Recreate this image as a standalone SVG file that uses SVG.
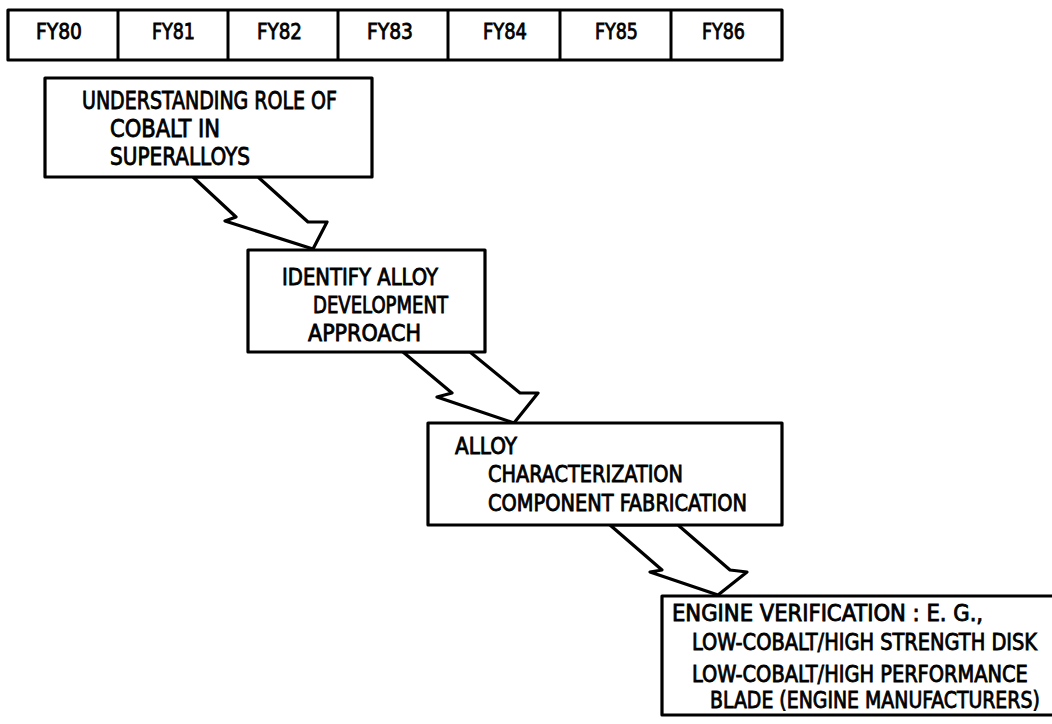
<svg xmlns="http://www.w3.org/2000/svg" width="1052" height="724" viewBox="0 0 1052 724">
<style>
.box{fill:#fff;stroke:#000;stroke-width:3.2;stroke-linejoin:round}
.arrow{fill:#fff;stroke:#000;stroke-width:3.2;stroke-linejoin:round}
.div{stroke:#000;stroke-width:3}
text{font-family:"Liberation Sans Narrow","DejaVu Sans Condensed","Liberation Sans",sans-serif;fill:#000;stroke:#000;stroke-width:0.8;font-size:23px}
.fy{font-size:22px}
.b1{font-size:24px}
</style>
<rect width="1052" height="724" fill="#fff"/>
<g id="timeline">
<rect class="box" x="8" y="10" width="774" height="50"/>
<line class="div" x1="118" y1="10" x2="118" y2="60"/>
<line class="div" x1="228" y1="10" x2="228" y2="60"/>
<line class="div" x1="338" y1="10" x2="338" y2="60"/>
<line class="div" x1="448" y1="10" x2="448" y2="60"/>
<line class="div" x1="560" y1="10" x2="560" y2="60"/>
<line class="div" x1="671" y1="10" x2="671" y2="60"/>
<text class="fy" x="36" y="39" textLength="46" lengthAdjust="spacingAndGlyphs">FY80</text>
<text class="fy" x="152" y="39" textLength="43" lengthAdjust="spacingAndGlyphs">FY81</text>
<text class="fy" x="257" y="39" textLength="45" lengthAdjust="spacingAndGlyphs">FY82</text>
<text class="fy" x="367" y="39" textLength="46" lengthAdjust="spacingAndGlyphs">FY83</text>
<text class="fy" x="483" y="39" textLength="44" lengthAdjust="spacingAndGlyphs">FY84</text>
<text class="fy" x="595" y="39" textLength="43" lengthAdjust="spacingAndGlyphs">FY85</text>
<text class="fy" x="702" y="39" textLength="43" lengthAdjust="spacingAndGlyphs">FY86</text>
</g>
<g id="connectors">
<polygon class="arrow" points="193,177 236,217 225,221 313,249 327,222 308,222 258,177"/>
<polygon class="arrow" points="403,352 452,393 437,397 514,423 538,393 520,393 470,352"/>
<polygon class="arrow" points="610,525 662,570 650,572 718,595 747,572 730,570 678,525"/>
</g>
<g id="node1">
<rect class="box" x="45" y="78" width="327" height="99"/>
<text class="b1" x="82" y="109" textLength="255" lengthAdjust="spacingAndGlyphs">UNDERSTANDING ROLE OF</text>
<text class="b1" x="110" y="137" textLength="110" lengthAdjust="spacingAndGlyphs">COBALT IN</text>
<text class="b1" x="110" y="165" textLength="140" lengthAdjust="spacingAndGlyphs">SUPERALLOYS</text>
</g>
<g id="node2">
<rect class="box" x="248" y="250" width="237" height="102"/>
<text x="282" y="285" textLength="156" lengthAdjust="spacingAndGlyphs">IDENTIFY ALLOY</text>
<text x="313" y="313" textLength="135" lengthAdjust="spacingAndGlyphs">DEVELOPMENT</text>
<text x="308" y="341" textLength="113" lengthAdjust="spacingAndGlyphs">APPROACH</text>
</g>
<g id="node3">
<rect class="box" x="428" y="423" width="354" height="102"/>
<text x="455" y="454" textLength="62" lengthAdjust="spacingAndGlyphs">ALLOY</text>
<text x="488" y="482" textLength="195" lengthAdjust="spacingAndGlyphs">CHARACTERIZATION</text>
<text x="488" y="511" textLength="259" lengthAdjust="spacingAndGlyphs">COMPONENT FABRICATION</text>
</g>
<g id="node4">
<rect class="box" x="662" y="596" width="420" height="119"/>
<text transform="translate(672,621) scale(0.85,1)" x="0" y="0" textLength="366" lengthAdjust="spacingAndGlyphs">ENGINE VERIFICATION : E. G.,</text>
<text transform="translate(692,650) scale(0.85,1)" x="0" y="0" textLength="406" lengthAdjust="spacingAndGlyphs">LOW-COBALT/HIGH STRENGTH DISK</text>
<text transform="translate(692,682) scale(0.85,1)" x="0" y="0" textLength="395" lengthAdjust="spacingAndGlyphs">LOW-COBALT/HIGH PERFORMANCE</text>
<text transform="translate(710,708) scale(0.85,1)" x="0" y="0" textLength="388" lengthAdjust="spacingAndGlyphs">BLADE (ENGINE MANUFACTURERS)</text>
</g>
</svg>
